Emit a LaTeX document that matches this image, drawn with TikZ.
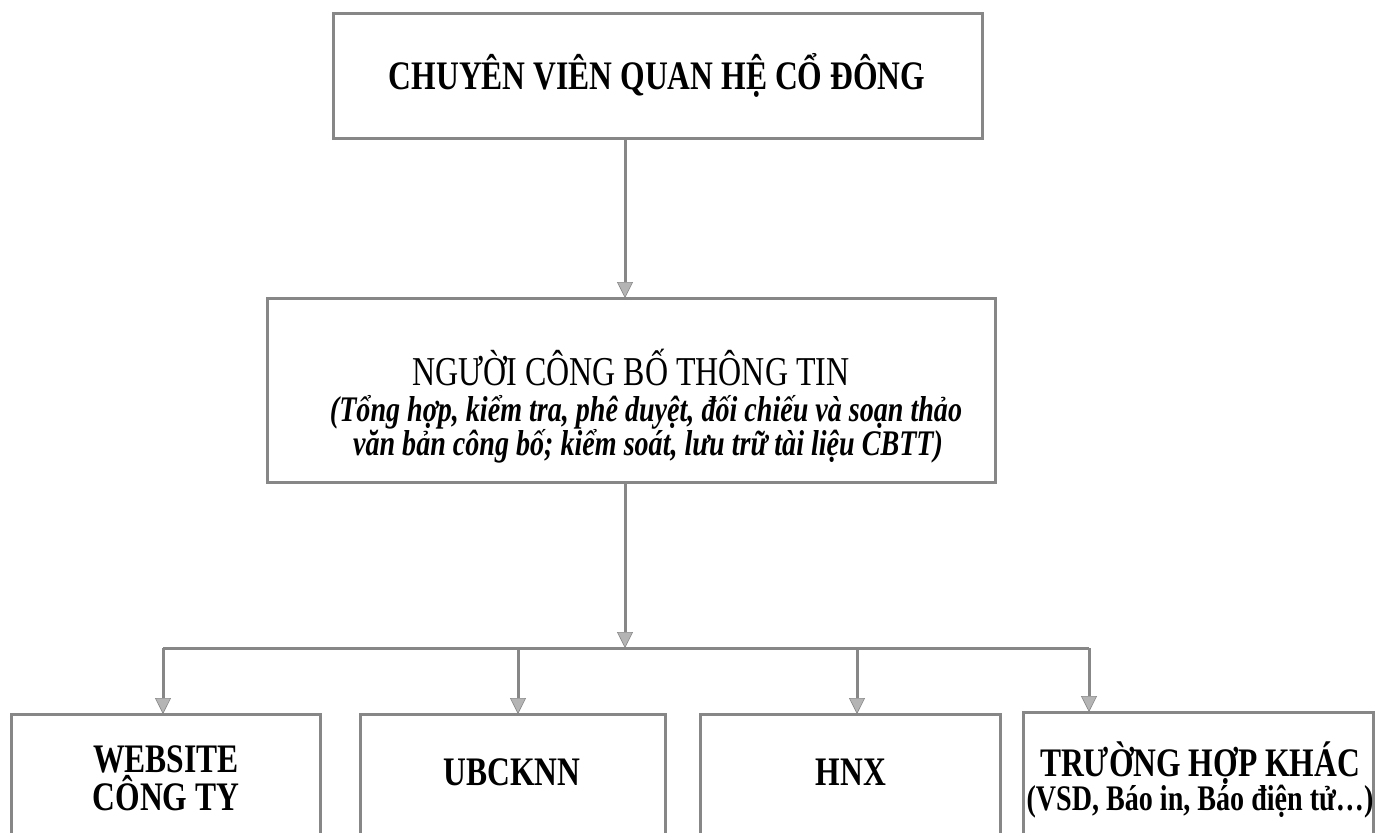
\documentclass[tikz,border=0pt]{standalone}
\usepackage{fontspec}
\setmainfont{Liberation Serif}[FakeStretch=0.78]
\usetikzlibrary{arrows.meta}
\definecolor{edge}{RGB}{135,135,135}
\definecolor{tipfill}{RGB}{180,180,180}
\begin{document}
\begin{tikzpicture}[x=1pt,y=-1pt,
  box/.style={draw=edge, line width=3pt, fill=white, inner sep=0pt, outer sep=0pt},
  conn/.style={draw=edge, line width=3pt},
  arr/.style={conn, -{Triangle[width=16pt,length=16pt,fill=tipfill,line width=0.6pt]}},
  lbl/.style={anchor=base, inner sep=0pt, text=black},
  bigb/.style={lbl, font=\fontsize{40.5}{46}\selectfont\bfseries},
  headr/.style={lbl, font=\fontsize{41}{46}\selectfont},
  itb/.style={lbl, font=\fontsize{36}{42}\selectfont\bfseries\itshape},
  smb/.style={lbl, font=\fontsize{36}{40}\selectfont\bfseries}]
\useasboundingbox (0,0) rectangle (1375,832);
\clip (0,0) rectangle (1375,832);
\fill[white] (0,0) rectangle (1375,832);

% boxes
\node[box, minimum width=649pt, minimum height=124pt] (top) at (657.5,76) {};
\node[box, minimum width=728pt, minimum height=184pt] (mid) at (631,390) {};
\node[box, minimum width=309pt, minimum height=200pt, anchor=north] (web) at (165.5,714) {};
\node[box, minimum width=305pt, minimum height=200pt, anchor=north] (ubc) at (512.5,714) {};
\node[box, minimum width=300pt, minimum height=200pt, anchor=north] (hnx) at (850,714) {};
\node[box, minimum width=350pt, minimum height=200pt, anchor=north] (oth) at (1198,712) {};

% texts
\node[bigb] (t1) at (657,90) {CHUYÊN VIÊN QUAN HỆ CỔ ĐÔNG};
\node[headr] (t2) at (631,385) {NGƯỜI CÔNG BỐ THÔNG TIN};
\node[itb] (t3) at (646,421) {(Tổng hợp, kiểm tra, phê duyệt, đối chiếu và soạn thảo};
\node[itb] (t4) at (648,455) {văn bản công bố; kiểm soát, lưu trữ tài liệu CBTT)};
\node[bigb] (t5) at (166,772) {WEBSITE};
\node[bigb] (t6) at (166,810) {CÔNG TY};
\node[bigb] (t7) at (512,785) {UBCKNN};
\node[bigb] (t8) at (851,785) {HNX};
\node[bigb] (t9) at (1200,776) {TRƯỜNG HỢP KHÁC};
\node[smb] (t10) at (1200,810) {(VSD, Báo in, Báo điện tử\ldots)};

% connectors
\coordinate (junc) at (625,648);
\coordinate (d1) at (163,648);
\coordinate (d2) at (518,648);
\coordinate (d3) at (857,648);
\coordinate (d4) at (1089,648);
\draw[arr] (top.south -| junc) -- (mid.north -| junc);
\draw[arr] (mid.south -| junc) -- (junc);
\draw[conn] (d1) -- (d4);
\draw[arr] (d1) -- (d1 |- web.north);
\draw[arr] (d2) -- (d2 |- ubc.north);
\draw[arr] (d3) -- (d3 |- hnx.north);
\draw[arr] (d4) -- (d4 |- oth.north);
\end{tikzpicture}
\end{document}
